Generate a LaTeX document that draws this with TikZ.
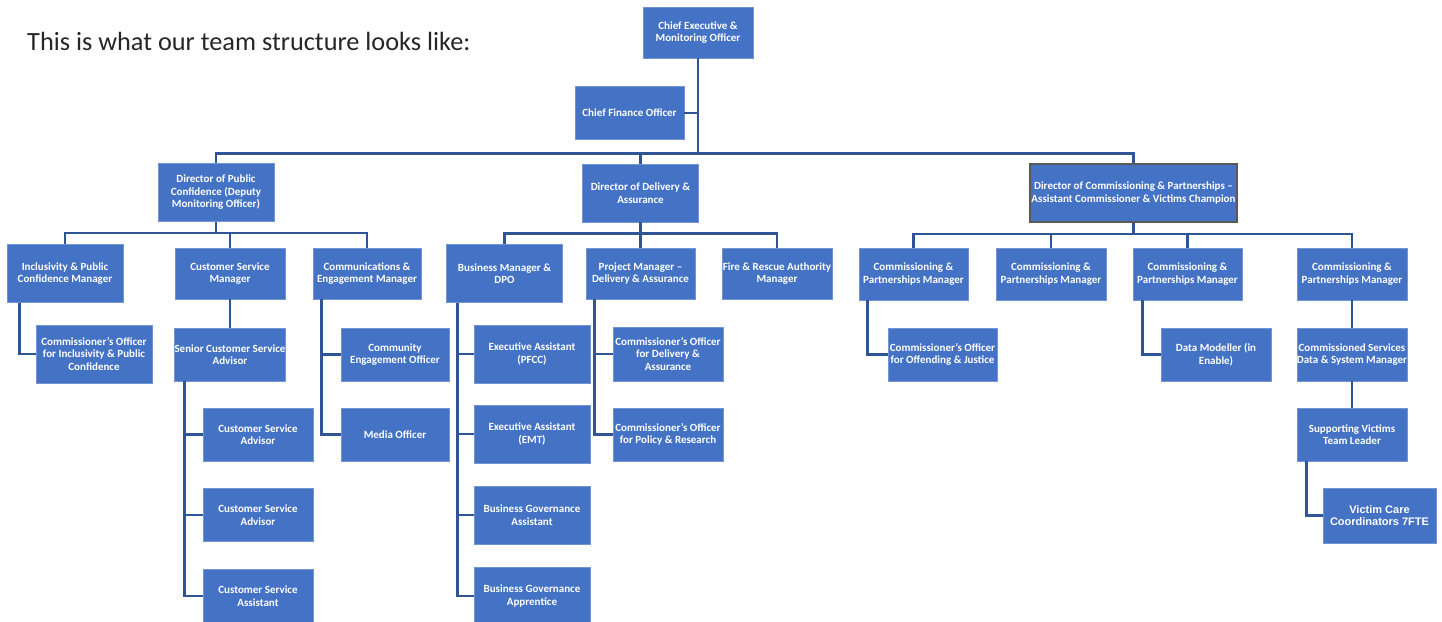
\documentclass[tikz,border=0pt]{standalone}
\usepackage{fontspec}
\setmainfont{Carlito}
\newfontfamily\arialfont{Liberation Sans}
\definecolor{boxblue}{HTML}{4472C4}
\definecolor{linkblue}{HTML}{2F5597}
\definecolor{headgray}{HTML}{262626}
\begin{document}
\begin{tikzpicture}[x=1pt, y=-1pt,
    post/.style={draw=boxblue!75!white, line width=0.8pt, fill=boxblue, text=white,
      font=\bfseries\fontsize{11}{12.5}\selectfont, align=center, inner sep=0pt,
      minimum width=110pt, minimum height=53pt},
    wide/.style={minimum width=116pt, minimum height=58pt},
    link/.style={draw=linkblue, line width=2.8pt}]
  \useasboundingbox (0,0) rectangle (1442,621);
  \node[anchor=base west, text=headgray, font=\fontsize{26.3}{30}\selectfont, inner sep=0pt]
    (head) at (27,50) {This is what our team structure looks like:};
  % Top level
  \node[post, minimum height=51pt] (ceo) at (698,32.5) {Chief Executive \&\\Monitoring Officer};
  \node[post, minimum width=109pt] (cfo) at (629.5,113) {Chief Finance Officer};
  \node[post, wide] (dpc) at (216,192.5) {Director of Public\\Confidence (Deputy\\Monitoring Officer)};
  \node[post, wide] (dda) at (640.5,193) {Director of Delivery \&\\Assurance};
  \node[post, minimum width=207pt, minimum height=58pt, draw=black!65, line width=2pt] (dcp) at (1133.5,193)
    {Director of Commissioning \& Partnerships –\\Assistant Commissioner \& Victims Champion};
  % Managers
  \node[post, wide] (ipc) at (65,273.5) {Inclusivity \& Public\\Confidence Manager};
  \node[post, minimum height=51pt] (csm) at (230,273.5) {Customer Service\\Manager};
  \node[post, minimum width=108pt, minimum height=51pt] (cem) at (367,273.5) {Communications \&\\Engagement Manager};
  \node[post, wide] (bm) at (504.5,273.5) {Business Manager \&\\DPO};
  \node[post, minimum width=109pt, minimum height=51pt] (pm) at (640.5,273.5) {Project Manager –\\Delivery \& Assurance};
  \node[post, minimum height=51pt] (fra) at (777,273.5) {Fire \& Rescue Authority\\Manager};
  \node[post, minimum width=109pt, minimum height=52pt] (cp1) at (913.5,274) {Commissioning \&\\Partnerships Manager};
  \node[post, minimum height=52pt] (cp2) at (1051,274) {Commissioning \&\\Partnerships Manager};
  \node[post, minimum width=109pt, minimum height=52pt] (cp3) at (1187.5,274) {Commissioning \&\\Partnerships Manager};
  \node[post, minimum height=52pt] (cp4) at (1352,274) {Commissioning \&\\Partnerships Manager};
  % Officers
  \node[post, wide] (coi) at (94,354) {Commissioner’s Officer\\for Inclusivity \& Public\\Confidence};
  \node[post] (scs) at (230,354.5) {Senior Customer Service\\Advisor};
  \node[post, minimum width=108pt] (ceg) at (395,354.5) {Community\\Engagement Officer};
  \node[post, wide] (eap) at (532,354) {Executive Assistant\\(PFCC)};
  \node[post, minimum height=54pt] (cod) at (668,354) {Commissioner’s Officer\\for Delivery \&\\Assurance};
  \node[post, minimum width=109pt] (coo) at (942.5,354.5) {Commissioner’s Officer\\for Offending \& Justice};
  \node[post] (dm) at (1216,354.5) {Data Modeller (in\\Enable)};
  \node[post] (csd) at (1352,354.5) {Commissioned Services\\Data \& System Manager};
  \node[post] (csa1) at (258,434.5) {Customer Service\\Advisor};
  \node[post, minimum width=108pt] (mo) at (395,434.5) {Media Officer};
  \node[post, wide] (eae) at (532,434) {Executive Assistant\\(EMT)};
  \node[post] (cop) at (668,434.5) {Commissioner’s Officer\\for Policy \& Research};
  \node[post] (svt) at (1352,434.5) {Supporting Victims\\Team Leader};
  \node[post] (csa2) at (258,515) {Customer Service\\Advisor};
  \node[post, wide] (bga) at (532,515) {Business Governance\\Assistant};
  \node[post, minimum width=113pt, minimum height=55pt, font=\arialfont\bfseries\fontsize{11}{12.5}\selectfont]
    (vcc) at (1379.5,515.5) {Victim Care\\Coordinators 7FTE};
  \node[post] (csa3) at (258,596) {Customer Service\\Assistant};
  \node[post, wide] (bgp) at (532,596) {Business Governance\\Apprentice};
  % Reporting lines
  \foreach \c in {dpc,dda,dcp}
    \draw[link] (ceo.south) -- ++(0,95) -| (\c.north);
  \draw[link] (cfo.east) -- (cfo.east -| ceo.south);
  \foreach \c in {ipc,csm,cem}
    \draw[link] (dpc.south) -- ++(0,11) -| (\c.north);
  \foreach \c in {bm,pm,fra}
    \draw[link] (dda.south) -- ++(0,11) -| (\c.north);
  \foreach \c in {cp1,cp2,cp3,cp4}
    \draw[link] (dcp.south) -- ++(0,11) -| (\c.north);
  \draw[link] (csm) -- (scs);
  \draw[link] (cp4) -- (csd);
  \draw[link] (csd) -- (svt);
  % Side branches
  \draw[link] ([xshift=13pt]ipc.south west) |- (coi.west);
  \foreach \c in {csa1,csa2,csa3}
    \draw[link] ([xshift=10pt]scs.south west) |- (\c.west);
  \foreach \c in {ceg,mo}
    \draw[link] ([xshift=9pt]cem.south west) |- (\c.west);
  \foreach \c in {eap,eae,bga,bgp}
    \draw[link] ([xshift=11pt]bm.south west) |- (\c.west);
  \foreach \c in {cod,cop}
    \draw[link] ([xshift=9pt]pm.south west) |- (\c.west);
  \draw[link] ([xshift=9pt]cp1.south west) |- (coo.west);
  \draw[link] ([xshift=10pt]cp3.south west) |- (dm.west);
  \draw[link] ([xshift=10pt]svt.south west) |- (vcc.west);
\end{tikzpicture}
\end{document}
